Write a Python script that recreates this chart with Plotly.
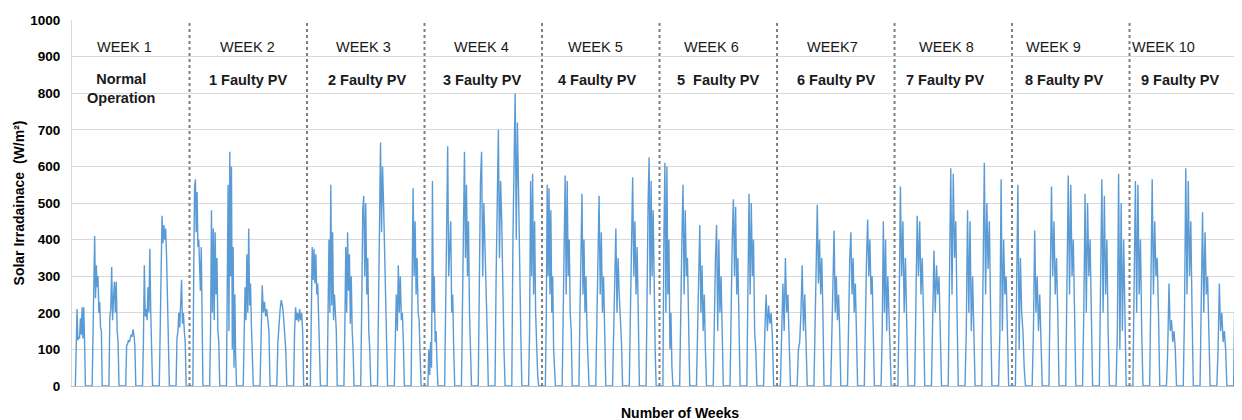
import plotly.graph_objects as go

# ---------------- data ----------------
WEEK_NAMES = ["WEEK 1", "WEEK 2", "WEEK 3", "WEEK 4", "WEEK 5",
              "WEEK 6", "WEEK7", "WEEK 8", "WEEK 9", "WEEK 10"]
WEEK_STATES = ["Normal<br>Operation", "1 Faulty PV", "2 Faulty PV", "3 Faulty PV",
               "4 Faulty PV", "5  Faulty PV", "6 Faulty PV", "7 Faulty PV",
               "8 Faulty PV", "9 Faulty PV"]
DAYS_PER_WEEK = 7

# daytime irradiance samples (W/m2), sunrise -> sunset, one list per day
week1 = [
    [0, 150, 210, 125, 135, 130, 185, 140, 215, 130, 215, 120, 0],
    [0, 130, 280, 410, 240, 330, 270, 300, 200, 230, 160, 150, 0],
    [0, 190, 210, 325, 180, 240, 285, 200, 285, 150, 120, 0],
    [0, 110, 115, 125, 120, 130, 140, 135, 155, 140, 110, 0],
    [0, 120, 330, 190, 210, 180, 270, 200, 375, 200, 120, 0],
    [0, 150, 380, 465, 390, 440, 400, 430, 350, 200, 100, 0],
    [0, 130, 150, 200, 160, 210, 290, 170, 200, 150, 120, 0],
]
week2 = [
    [0, 300, 540, 565, 420, 530, 380, 400, 300, 260, 380, 100, 0],
    [0, 150, 480, 200, 430, 180, 420, 250, 350, 150, 120, 0],
    [0, 200, 550, 150, 640, 300, 600, 100, 380, 50, 250, 80, 0],
    [0, 150, 270, 180, 360, 200, 430, 220, 280, 160, 100, 0],
    [0, 150, 275, 200, 230, 190, 210, 180, 150, 0],
    [0, 120, 180, 210, 235, 220, 190, 150, 100, 0],
    [0, 150, 215, 180, 200, 175, 210, 180, 200, 150, 0],
]
week3 = [
    [0, 250, 380, 290, 375, 280, 360, 250, 280, 190, 100, 0],
    [0, 180, 400, 200, 550, 220, 420, 180, 250, 200, 150, 0],
    [0, 160, 380, 200, 420, 260, 360, 170, 300, 150, 100, 0],
    [0, 220, 480, 520, 300, 500, 250, 350, 150, 100, 0],
    [0, 250, 450, 665, 420, 600, 500, 350, 200, 100, 0],
    [0, 180, 250, 150, 330, 200, 300, 180, 200, 120, 0],
    [0, 200, 540, 300, 450, 250, 350, 200, 180, 80, 0],
]
week4 = [
    [0, 100, 30, 120, 50, 560, 200, 300, 120, 150, 60, 0],
    [0, 200, 450, 655, 300, 390, 450, 200, 250, 100, 0],
    [0, 250, 450, 640, 350, 550, 300, 450, 200, 100, 0],
    [0, 300, 560, 640, 300, 500, 400, 250, 150, 0],
    [0, 300, 600, 700, 350, 560, 450, 250, 100, 0],
    [0, 400, 560, 800, 400, 720, 540, 300, 150, 0],
    [0, 150, 560, 300, 580, 250, 450, 200, 100, 30, 0],
]
week5 = [
    [0, 200, 550, 300, 540, 250, 480, 200, 300, 100, 30, 0],
    [0, 250, 400, 575, 250, 560, 300, 400, 200, 150, 0],
    [0, 200, 400, 525, 250, 400, 200, 300, 150, 80, 0],
    [0, 150, 350, 520, 250, 420, 200, 300, 150, 0],
    [0, 150, 300, 430, 200, 350, 250, 200, 120, 0],
    [0, 200, 400, 570, 300, 450, 250, 380, 200, 0],
    [0, 300, 500, 625, 250, 560, 300, 480, 200, 100, 0],
]
week6 = [
    [0, 400, 610, 200, 600, 250, 400, 100, 200, 50, 0],
    [0, 250, 400, 550, 250, 480, 300, 350, 200, 0],
    [0, 150, 300, 440, 200, 330, 150, 250, 100, 0],
    [0, 200, 350, 440, 150, 400, 200, 300, 150, 0],
    [0, 250, 400, 510, 300, 490, 250, 350, 200, 0],
    [0, 300, 525, 250, 500, 300, 400, 150, 100, 0],
    [0, 150, 250, 150, 220, 170, 200, 130, 0],
]
week7 = [
    [0, 150, 280, 150, 350, 200, 250, 120, 0],
    [0, 100, 120, 200, 330, 150, 250, 120, 0],
    [0, 200, 300, 495, 280, 400, 250, 350, 200, 0],
    [0, 150, 300, 425, 200, 300, 180, 250, 150, 0],
    [0, 200, 350, 420, 250, 350, 200, 280, 150, 0],
    [0, 200, 350, 455, 300, 400, 250, 300, 150, 0],
    [0, 150, 450, 200, 400, 150, 300, 200, 100, 0],
]
week8 = [
    [0, 200, 545, 300, 450, 200, 350, 150, 0],
    [0, 250, 465, 300, 450, 250, 350, 200, 0],
    [0, 150, 370, 200, 330, 250, 300, 150, 0],
    [0, 300, 595, 250, 580, 350, 450, 200, 0],
    [0, 150, 480, 200, 450, 150, 300, 100, 0],
    [0, 300, 610, 250, 500, 320, 450, 200, 0],
    [0, 150, 565, 150, 400, 250, 300, 100, 0],
]
week9 = [
    [0, 350, 550, 100, 350, 200, 150, 50, 0],
    [0, 150, 425, 200, 300, 150, 250, 100, 0],
    [0, 250, 545, 300, 450, 250, 350, 200, 0],
    [0, 300, 575, 250, 550, 300, 400, 200, 0],
    [0, 200, 525, 200, 500, 300, 400, 150, 0],
    [0, 300, 565, 200, 520, 250, 400, 150, 0],
    [0, 150, 580, 100, 500, 150, 400, 200, 0],
]
week10 = [
    [0, 300, 560, 200, 550, 250, 400, 150, 0],
    [0, 300, 565, 250, 450, 300, 350, 200, 0],
    [0, 100, 280, 150, 180, 120, 150, 100, 0],
    [0, 200, 595, 250, 560, 300, 450, 200, 0],
    [0, 300, 475, 200, 420, 250, 300, 150, 0],
    [0, 100, 280, 150, 200, 120, 150, 100, 0],
    [0, 300, 350, 390, 300, 250, 150, 0],
]
WEEKS = [week1, week2, week3, week4, week5, week6, week7, week8, week9, week10]

Y_TICKS = list(range(0, 1001, 100))

# ---------------- build series (time in days) ----------------
SUNRISE, SUNSET = 0.2, 0.8
xs, ys = [], []
day = 0
for week in WEEKS:
    for vals in week:
        n = len(vals)
        for i, v in enumerate(vals):
            xs.append(day + SUNRISE + (SUNSET - SUNRISE) * i / (n - 1))
            ys.append(v)
        day += 1

FONT = "Liberation Sans, Arial, sans-serif"
W, H = 1234, 412
L, R, T, B = 64, 0, 12, 34

fig = go.Figure()
fig.add_trace(go.Scatter(x=xs, y=ys, mode="lines",
                         line=dict(color="#5B9BD5", width=1.4),
                         hoverinfo="skip", showlegend=False))

n_weeks = len(WEEKS)
# week separators
for w in range(1, n_weeks):
    fig.add_shape(type="line", xref="x", yref="y",
                  x0=w * DAYS_PER_WEEK, x1=w * DAYS_PER_WEEK, y0=0, y1=1000,
                  line=dict(color="#7f7f7f", width=2, dash="dot"), layer="above")

# label offsets (days, relative to week centre) -- layout only
name_off = [-0.35, -0.07, -0.16, -0.13, -0.3, -0.4, -0.2, -0.4, -1.0, -1.5]
state_off = [-0.6, 0.0, 0.1, -0.1, -0.2, 0.0, 0.0, -0.5, -0.4, -0.5]
for w in range(n_weeks):
    c = w * DAYS_PER_WEEK + DAYS_PER_WEEK / 2
    fig.add_annotation(x=c + name_off[w], y=926, text=WEEK_NAMES[w],
                       showarrow=False, xref="x", yref="y",
                       font=dict(family=FONT, size=14.5, color="#1a1a1a"))
    fig.add_annotation(x=c + state_off[w], y=836 if w > 0 else 812,
                       text="<b>" + WEEK_STATES[w] + "</b>",
                       showarrow=False, xref="x", yref="y",
                       font=dict(family=FONT, size=14.5, color="#1a1a1a"))

plot_w = W - L - R
plot_h = H - T - B
fig.add_annotation(x=(680 - 8 - L) / plot_w, y=-(413 - 386) / plot_h,
                   xref="paper", yref="paper", yanchor="middle",
                   text="<b>Number of Weeks</b>",
                   showarrow=False, font=dict(family=FONT, size=14, color="#000"))

fig.update_layout(
    width=W, height=H,
    margin=dict(l=L, r=R, t=T, b=B),
    paper_bgcolor="white", plot_bgcolor="white",
    font=dict(family=FONT, size=13, color="#000"),
    xaxis=dict(range=[0, 69.7], showticklabels=False, showgrid=False,
               zeroline=False, showline=True, linecolor="#bfbfbf", ticks=""),
    yaxis=dict(range=[0, 1000], tickvals=Y_TICKS,
               ticktext=["<b>%d</b>" % t for t in Y_TICKS],
               tickfont=dict(family=FONT, size=13.5),
               showgrid=True, gridcolor="#d9d9d9", gridwidth=1,
               zeroline=False, showline=True, linecolor="#d9d9d9", ticks="",
               ticklabelstandoff=8,
               title=dict(text="<b>Solar Irradainace  (W/m²)</b>", standoff=2,
                          font=dict(family=FONT, size=14))),
)

fig.write_html("out.html")
